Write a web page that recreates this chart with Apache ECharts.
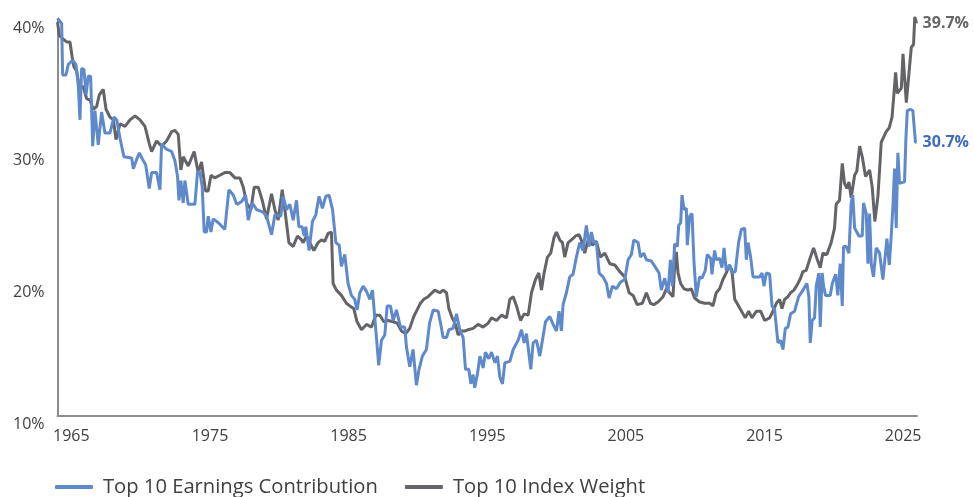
<!DOCTYPE html>
<html>
<head>
<meta charset="utf-8">
<script src="https://cdn.jsdelivr.net/npm/echarts@6/dist/echarts.min.js"></script>
<style>
  html, body { margin: 0; padding: 0; background: #fff; }
  #chart { width: 974px; height: 497px; }
</style>
</head>
<body>
<div id="chart"></div>
<script>
// 年份刻度
var yearTicks = [1965, 1975, 1985, 1995, 2005, 2015, 2025];
var yTicks = [10, 20, 30, 40];
var seriesNames = ['Top 10 Earnings Contribution', 'Top 10 Index Weight'];

// [year, %]
var earnings = [
  [1964.0, 40.1], [1964.3, 39.7], [1964.37, 35.8], [1964.61, 35.8], [1964.78, 36.6], [1965.09, 36.9],
  [1965.33, 36.6], [1965.5, 35.0], [1965.62, 32.4], [1965.74, 36.3], [1965.91, 36.2], [1966.06, 34.3],
  [1966.22, 35.7], [1966.39, 35.7], [1966.54, 30.4], [1966.7, 33.1], [1966.94, 30.5], [1967.18, 33.0],
  [1967.42, 31.4], [1967.78, 31.4], [1968.07, 32.6], [1968.27, 32.4], [1968.51, 31.0], [1968.79, 29.6],
  [1969.35, 29.5], [1969.47, 28.7], [1969.71, 29.4], [1969.9, 29.9], [1970.14, 29.4], [1970.36, 29.0],
  [1970.62, 27.2], [1970.79, 28.4], [1971.15, 28.4], [1971.39, 27.1], [1971.51, 30.6], [1971.82, 30.2],
  [1972.23, 30.0], [1972.47, 29.3], [1972.66, 28.1], [1972.76, 26.3], [1972.9, 27.8], [1973.07, 26.1],
  [1973.19, 27.8], [1973.43, 26.0], [1973.91, 26.0], [1974.1, 28.4], [1974.27, 28.5], [1974.44, 27.3],
  [1974.58, 23.9], [1974.75, 23.9], [1974.87, 25.1], [1975.07, 23.9], [1975.23, 24.9], [1975.6, 24.6],
  [1976.07, 24.1], [1976.36, 27.1], [1976.68, 26.7], [1976.92, 26.0], [1977.28, 26.2], [1977.57, 26.7],
  [1977.76, 24.8], [1978.05, 26.1], [1978.36, 25.6], [1978.84, 25.4], [1979.08, 25.1], [1979.44, 23.7],
  [1979.68, 25.2], [1980.11, 25.1], [1980.28, 26.6], [1980.52, 25.6], [1980.76, 26.0], [1981.0, 24.8],
  [1981.24, 26.3], [1981.41, 24.3], [1981.65, 24.3], [1981.8, 23.6], [1981.91, 24.3], [1982.15, 22.5],
  [1982.39, 24.7], [1982.63, 25.2], [1982.87, 26.6], [1983.11, 25.7], [1983.35, 26.6], [1983.59, 26.7],
  [1983.84, 25.6], [1984.08, 23.1], [1984.32, 22.9], [1984.48, 21.3], [1984.72, 22.2], [1984.96, 20.0],
  [1985.2, 19.1], [1985.44, 18.8], [1985.61, 18.0], [1985.81, 19.3], [1986.05, 19.8], [1986.29, 19.4],
  [1986.53, 18.8], [1986.72, 19.5], [1986.96, 16.5], [1987.17, 13.8], [1987.37, 15.7], [1987.61, 16.1],
  [1987.78, 18.3], [1988.02, 18.3], [1988.21, 17.2], [1988.45, 18.0], [1988.74, 16.7], [1989.05, 16.7],
  [1989.17, 15.2], [1989.41, 13.7], [1989.65, 15.0], [1989.89, 12.3], [1990.08, 13.5], [1990.32, 14.5],
  [1990.61, 15.0], [1990.69, 15.0], [1990.84, 17.0], [1991.1, 18.0], [1991.46, 17.9], [1991.65, 16.9],
  [1991.82, 15.9], [1992.06, 15.9], [1992.23, 16.5], [1992.54, 16.6], [1992.78, 17.7], [1993.02, 16.5],
  [1993.26, 15.9], [1993.43, 13.5], [1993.67, 13.5], [1993.82, 12.4], [1993.98, 13.1], [1994.1, 12.1],
  [1994.3, 13.2], [1994.47, 14.5], [1994.7, 13.6], [1994.87, 14.8], [1995.11, 14.3], [1995.31, 14.8],
  [1995.55, 14.0], [1995.74, 14.5], [1995.91, 12.9], [1996.1, 12.4], [1996.27, 14.0], [1996.63, 14.1],
  [1996.87, 15.0], [1997.23, 15.7], [1997.47, 16.5], [1997.66, 15.5], [1997.83, 16.2], [1998.14, 13.5],
  [1998.31, 15.5], [1998.55, 15.7], [1998.79, 14.5], [1999.03, 16.0], [1999.2, 17.1], [1999.51, 17.5],
  [1999.75, 16.9], [1999.99, 16.4], [2000.18, 17.9], [2000.35, 16.4], [2000.47, 18.4], [2000.71, 19.3],
  [2000.95, 20.5], [2001.19, 20.7], [2001.43, 22.0], [2001.67, 23.1], [2001.91, 22.5], [2002.15, 24.4],
  [2002.35, 22.8], [2002.51, 23.9], [2002.68, 23.1], [2002.87, 23.2], [2003.07, 20.8], [2003.35, 20.5],
  [2003.6, 20.0], [2003.79, 18.9], [2004.03, 19.8], [2004.32, 19.6], [2004.6, 20.1], [2004.92, 20.3],
  [2005.16, 21.8], [2005.4, 22.2], [2005.57, 23.3], [2005.88, 23.1], [2006.05, 22.0], [2006.29, 22.3],
  [2006.48, 21.8], [2006.84, 21.7], [2007.15, 21.2], [2007.39, 20.8], [2007.56, 19.5], [2007.8, 20.4],
  [2008.04, 19.3], [2008.21, 21.8], [2008.35, 19.8], [2008.52, 23.0], [2008.71, 22.8], [2008.81, 24.4],
  [2008.95, 24.6], [2009.05, 26.7], [2009.19, 25.6], [2009.36, 25.7], [2009.43, 22.9], [2009.6, 25.1],
  [2009.77, 25.3], [2009.91, 21.7], [2010.08, 19.0], [2010.32, 20.5], [2010.49, 20.4], [2010.73, 21.0],
  [2010.87, 22.2], [2011.12, 21.9], [2011.21, 20.7], [2011.4, 22.5], [2011.52, 21.8], [2011.76, 21.9],
  [2011.93, 21.2], [2012.08, 22.7], [2012.24, 21.0], [2012.48, 21.4], [2012.65, 20.8], [2012.89, 20.9],
  [2013.13, 23.1], [2013.33, 24.1], [2013.57, 24.2], [2013.69, 21.8], [2013.81, 23.1], [2014.0, 22.0],
  [2014.17, 20.5], [2014.65, 20.5], [2014.82, 20.8], [2014.96, 19.8], [2015.13, 20.8], [2015.37, 20.7],
  [2015.54, 18.3], [2015.73, 18.0], [2015.97, 15.5], [2016.16, 15.7], [2016.33, 15.0], [2016.5, 16.6],
  [2016.69, 16.7], [2016.88, 17.7], [2017.17, 17.9], [2017.46, 19.0], [2017.77, 19.5], [2018.06, 20.0],
  [2018.2, 19.0], [2018.3, 15.5], [2018.44, 17.2], [2018.61, 17.4], [2018.73, 19.8], [2018.92, 20.8],
  [2019.02, 16.7], [2019.16, 20.8], [2019.26, 19.8], [2019.4, 19.1], [2019.74, 19.1], [2019.89, 20.0],
  [2020.13, 20.7], [2020.29, 19.1], [2020.46, 21.5], [2020.61, 18.3], [2020.7, 22.8], [2020.89, 22.8],
  [2021.09, 22.3], [2021.25, 26.1], [2021.37, 26.7], [2021.5, 24.2], [2021.81, 23.6], [2022.05, 23.6],
  [2022.14, 26.1], [2022.34, 25.3], [2022.46, 21.5], [2022.58, 25.3], [2022.7, 21.5], [2022.86, 20.5],
  [2023.06, 22.7], [2023.3, 22.3], [2023.54, 20.3], [2023.83, 23.4], [2024.0, 21.4], [2024.14, 23.6],
  [2024.26, 25.8], [2024.38, 28.7], [2024.5, 24.2], [2024.62, 29.9], [2024.74, 27.6], [2025.1, 27.7],
  [2025.2, 31.0], [2025.3, 33.1], [2025.51, 33.2], [2025.7, 33.1], [2025.82, 33.2], [2025.89, 30.7],
  [2025.97, 30.7]
];

var indexWeight = [
  [1964.0, 39.8], [1964.13, 38.8], [1964.42, 38.5], [1964.66, 38.3], [1964.9, 38.3], [1965.05, 37.2],
  [1965.19, 36.4], [1965.38, 36.1], [1965.57, 34.9], [1965.86, 34.9], [1966.1, 34.0], [1966.34, 33.9],
  [1966.58, 33.2], [1966.82, 33.4], [1967.02, 34.3], [1967.3, 34.7], [1967.5, 33.2], [1967.78, 32.6],
  [1968.03, 32.4], [1968.22, 30.9], [1968.51, 32.1], [1968.87, 31.9], [1969.23, 32.4], [1969.59, 32.7],
  [1969.95, 32.4], [1970.31, 31.9], [1970.62, 30.6], [1970.79, 30.0], [1971.15, 30.8], [1971.51, 30.4],
  [1971.87, 30.8], [1972.23, 31.5], [1972.47, 31.6], [1972.71, 31.3], [1972.9, 28.6], [1973.07, 29.6],
  [1973.43, 28.9], [1973.86, 30.0], [1974.15, 28.4], [1974.39, 29.2], [1974.68, 27.0], [1974.87, 27.0],
  [1975.07, 28.2], [1975.35, 28.0], [1975.71, 28.2], [1976.07, 28.4], [1976.44, 28.4], [1976.8, 28.0],
  [1977.16, 28.0], [1977.4, 27.3], [1977.64, 26.1], [1977.95, 25.6], [1978.19, 27.3], [1978.48, 27.3],
  [1978.77, 26.3], [1979.08, 24.9], [1979.44, 26.8], [1979.68, 25.6], [1979.92, 24.8], [1980.21, 27.1],
  [1980.4, 25.6], [1980.69, 23.1], [1981.0, 22.8], [1981.31, 23.6], [1981.6, 23.3], [1981.72, 23.1],
  [1981.96, 23.6], [1982.2, 23.1], [1982.49, 22.5], [1982.8, 23.1], [1983.04, 23.3], [1983.28, 23.2],
  [1983.52, 23.8], [1983.76, 23.9], [1983.88, 20.0], [1984.12, 19.5], [1984.48, 19.1], [1984.84, 18.5],
  [1985.08, 18.3], [1985.37, 18.1], [1985.61, 17.1], [1985.93, 16.5], [1986.29, 16.9], [1986.65, 16.7],
  [1986.96, 17.6], [1987.25, 17.6], [1987.54, 17.1], [1987.85, 17.2], [1988.21, 17.1], [1988.5, 17.0],
  [1988.81, 16.4], [1989.12, 16.2], [1989.41, 16.6], [1989.7, 17.5], [1989.94, 18.0], [1990.18, 18.5],
  [1990.42, 18.8], [1990.73, 19.0], [1991.22, 19.5], [1991.58, 19.3], [1991.82, 19.5], [1992.06, 19.3],
  [1992.23, 18.1], [1992.47, 17.4], [1992.71, 16.9], [1992.9, 16.1], [1993.14, 16.4], [1993.38, 16.4],
  [1993.62, 16.5], [1993.98, 16.6], [1994.34, 16.9], [1994.7, 16.7], [1995.07, 17.0], [1995.31, 17.4],
  [1995.67, 17.2], [1996.03, 17.6], [1996.39, 17.4], [1996.63, 18.8], [1996.87, 19.0], [1997.11, 18.3],
  [1997.4, 17.2], [1997.66, 17.7], [1997.95, 17.6], [1998.19, 19.3], [1998.48, 20.3], [1998.72, 20.8],
  [1998.91, 19.5], [1999.1, 20.8], [1999.34, 22.0], [1999.58, 22.3], [1999.82, 23.5], [1999.99, 23.9],
  [2000.23, 23.3], [2000.42, 23.1], [2000.59, 22.0], [2000.83, 23.1], [2001.07, 23.3], [2001.38, 23.6],
  [2001.62, 23.7], [2001.86, 23.1], [2002.03, 22.3], [2002.35, 23.6], [2002.59, 22.9], [2002.87, 23.2],
  [2003.16, 22.0], [2003.48, 22.3], [2003.84, 21.5], [2004.2, 21.4], [2004.56, 20.9], [2004.92, 20.5],
  [2005.23, 19.3], [2005.52, 19.1], [2005.81, 18.4], [2006.19, 18.5], [2006.48, 19.3], [2006.77, 18.5],
  [2007.01, 18.4], [2007.32, 18.6], [2007.68, 19.0], [2007.92, 19.6], [2008.16, 19.3], [2008.4, 19.0],
  [2008.5, 21.0], [2008.64, 22.4], [2008.76, 20.8], [2008.95, 20.0], [2009.19, 19.6], [2009.48, 19.5],
  [2009.72, 19.6], [2009.96, 18.9], [2010.32, 18.6], [2010.68, 18.5], [2011.04, 18.5], [2011.28, 18.3],
  [2011.52, 19.3], [2011.76, 19.6], [2012.0, 20.3], [2012.24, 20.8], [2012.48, 21.4], [2012.65, 21.0],
  [2012.85, 18.8], [2013.13, 18.3], [2013.45, 17.7], [2013.61, 17.4], [2013.86, 17.9], [2014.09, 17.4],
  [2014.41, 17.9], [2014.72, 17.9], [2015.01, 17.2], [2015.37, 17.4], [2015.61, 17.9], [2015.85, 18.5],
  [2016.09, 18.8], [2016.26, 18.1], [2016.45, 18.8], [2016.69, 19.0], [2016.88, 19.3], [2017.12, 19.5],
  [2017.36, 19.9], [2017.6, 20.4], [2017.77, 20.9], [2018.01, 21.0], [2018.25, 21.8], [2018.54, 22.7],
  [2018.78, 21.9], [2019.02, 21.2], [2019.21, 22.3], [2019.5, 22.2], [2019.81, 23.1], [2020.05, 24.2],
  [2020.17, 26.0], [2020.41, 26.3], [2020.61, 29.1], [2020.77, 27.6], [2020.94, 27.2], [2021.09, 27.7],
  [2021.25, 26.5], [2021.5, 28.2], [2021.66, 28.5], [2021.86, 30.4], [2022.05, 29.6], [2022.29, 28.1],
  [2022.58, 28.6], [2022.77, 27.3], [2022.96, 24.7], [2023.18, 26.6], [2023.3, 28.6], [2023.42, 30.7],
  [2023.78, 31.5], [2024.0, 31.8], [2024.2, 32.6], [2024.46, 36.0], [2024.58, 34.4], [2024.87, 34.8],
  [2024.99, 37.4], [2025.23, 33.7], [2025.46, 36.4], [2025.59, 37.9], [2025.75, 38.1], [2025.84, 40.2],
  [2025.97, 39.7]
];

var colors = ['#5e8acc', '#646468'];
var labelColors = ['#3f6dbb', '#666666'];
var font = '"Open Sans", sans-serif';

var myChart = echarts.init(document.getElementById('chart'));

function endLabel(i) {
  return {
    show: true,
    distance: 6,
    color: labelColors[i],
    fontFamily: font,
    fontSize: 16,
    fontWeight: 'bold',
    formatter: function (p) { return p.value[1].toFixed(1) + '%'; }
  };
}

var option = {
  animation: false,
  color: colors,
  grid: { left: 57.5, right: 57, top: 19.5, bottom: 81.5 },
  legend: {
    data: seriesNames,
    left: 50,
    top: 472,
    icon: 'roundRect',
    itemWidth: 38,
    itemHeight: 4,
    itemGap: 27,
    textStyle: { fontFamily: font, fontSize: 20.2, color: '#404040', padding: [0, 0, 0, 5] }
  },
  xAxis: {
    type: 'value',
    min: 1964,
    max: 2026,
    splitLine: { show: false },
    axisTick: { show: false },
    axisLine: { lineStyle: { color: '#8c8c8c', width: 2 } },
    axisLabel: {
      customValues: yearTicks,
      margin: 13,
      color: '#404040',
      fontFamily: font,
      fontSize: 16,
      formatter: function (v) { return String(v); }
    }
  },
  yAxis: {
    type: 'value',
    min: 10,
    max: 40,
    interval: 10,
    splitLine: { show: false },
    axisTick: { show: false },
    axisLine: { show: true, lineStyle: { color: '#8c8c8c', width: 2 } },
    axisLabel: {
      margin: 13,
      color: '#404040',
      fontFamily: font,
      fontSize: 16,
      verticalAlign: 'top',
      lineHeight: 17,
      formatter: '{value}%'
    }
  },
  series: [
    {
      name: seriesNames[1],
      type: 'line',
      data: indexWeight,
      showSymbol: false,
      clip: false,
      lineStyle: { width: 3, color: colors[1] },
      itemStyle: { color: colors[1] },
      endLabel: endLabel(1)
    },
    {
      name: seriesNames[0],
      type: 'line',
      data: earnings,
      showSymbol: false,
      clip: false,
      lineStyle: { width: 3, color: colors[0] },
      itemStyle: { color: colors[0] },
      endLabel: endLabel(0)
    }
  ]
};
myChart.setOption(option);
</script>
</body>
</html>
